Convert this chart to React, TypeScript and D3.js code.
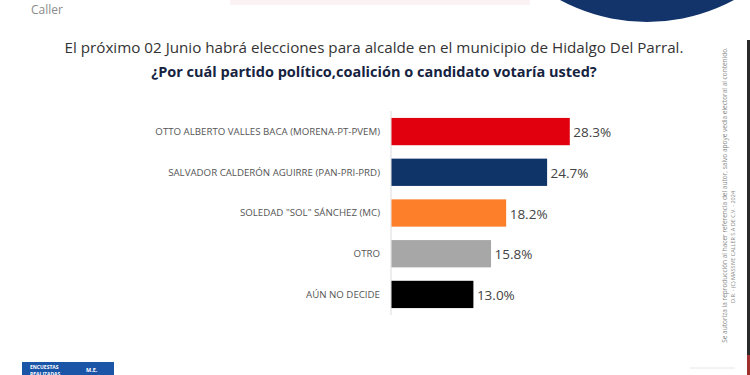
import React from "react";
import * as d3 from "d3";

const categories = [
  "OTTO ALBERTO VALLES  BACA (MORENA-PT-PVEM)",
  "SALVADOR CALDERÓN AGUIRRE (PAN-PRI-PRD)",
  "SOLEDAD \"SOL\" SÁNCHEZ (MC)",
  "OTRO",
  "AÚN NO DECIDE",
];
const values = [28.3, 24.7, 18.2, 15.8, 13.0];
const colors = ["#e0000e", "#0f3468", "#fd7f2a", "#a7a7a7", "#000000"];

const title1 = "El próximo 02 Junio habrá elecciones para alcalde en el municipio de Hidalgo Del Parral.";
const title2 = "¿Por cuál partido político,coalición o candidato votaría usted?";

const W = 750;
const H = 375;

export default function App() {
  const y = d3
    .scaleBand<string>()
    .domain(categories)
    .range([111, 315])
    .paddingInner(0.33)
    .paddingOuter(0.17);
  const x = d3.scaleLinear().domain([0, 30]).range([391, 391 + 189]);
  const font = "'Open Sans', 'DejaVu Sans', sans-serif";

  return (
    <svg
      width={W}
      height={H}
      style={{ position: "absolute", left: 0, top: 0, background: "#fff" }}
      fontFamily={font}
    >
      <rect width={W} height={H} fill="#fff" />
      {/* top decorations */}
      <rect x={230} y={0} width={300} height={5} fill="#fbf3f3" />
      <circle cx={647} cy={-161} r={183} fill="#13346b" />
      <text x={28} y={0} fontSize={9} fill="#333" fontWeight="bold">Massive</text>
      <text x={31} y={14} fontSize={12} fill="#8a8a8a">Caller</text>

      {/* titles */}
      <text x={374} y={53} textAnchor="middle" fontSize={15.2} fill="#333">
        {title1}
      </text>
      <text x={374} y={77} textAnchor="middle" fontSize={14.5} fontWeight="bold" fill="#16233f">
        {title2}
      </text>

      {/* axis line */}
      <line x1={x(0)} x2={x(0)} y1={111} y2={315} stroke="#dcdcdc" strokeWidth={1} />

      {categories.map((c, i) => {
        const yy = y(c)!;
        const bw = y.bandwidth();
        return (
          <g key={c}>
            <rect x={x(0) + 0.5} y={yy} width={x(values[i]) - x(0)} height={bw} fill={colors[i]} />
            <text
              x={380}
              y={yy + bw / 2}
              dy="0.35em"
              textAnchor="end"
              fontSize={9.7}
              fill="#555"
            >
              {c}
            </text>
            <text
              x={x(values[i]) + 4}
              y={yy + bw / 2 + 1}
              dy="0.35em"
              fontSize={13.5}
              fill="#444"
            >
              {values[i].toFixed(1)}%
            </text>
          </g>
        );
      })}

      {/* side copyright */}
      <text
        transform="translate(735,247) rotate(-90)"
        textAnchor="middle"
        fontSize={5.5}
        fill="#888"
      >
        D.R. - (C) MASSIVE CALLER S.A DE C.V. - 2024
      </text>
      <text
        transform="translate(727,195) rotate(-90)"
        textAnchor="middle"
        fontSize={6.5}
        fill="#888"
      >
        Se autoriza la reproducción al hacer referencia del autor, salvo apoye vedia electoral al contenido.
      </text>
      <rect x={747} y={40} width={3} height={335} fill="#2a2a2a" />
      <rect x={747} y={355} width={3} height={20} fill="#a03030" />
      <line x1={690} x2={735} y1={368} y2={368} stroke="#e6e6e6" />

      {/* bottom-left box */}
      <rect x={22} y={362} width={92} height={14} fill="#1b55a8" />
      <text x={30} y={369} fontSize={5} fill="#fff" fontWeight="bold">ENCUESTAS</text>
      <text x={30} y={376} fontSize={5} fill="#fff" fontWeight="bold">REALIZADAS</text>
      <text x={86} y={372} fontSize={5.5} fill="#fff" fontWeight="bold">M.E.</text>
    </svg>
  );
}
